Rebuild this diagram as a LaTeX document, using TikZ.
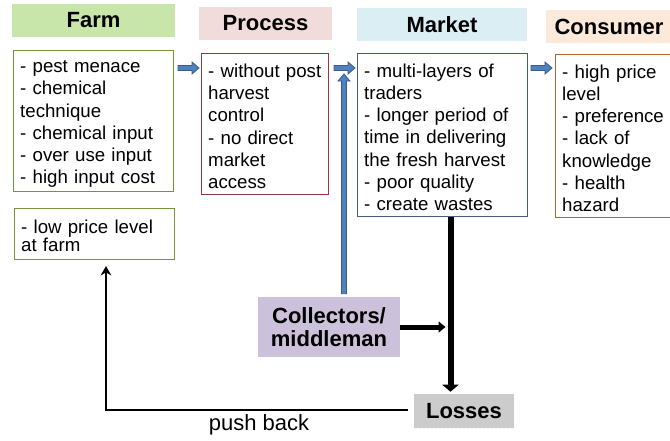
\documentclass[tikz,border=0pt]{standalone}
\usepackage{fontspec}
\setmainfont{Liberation Sans}
\usetikzlibrary{calc,arrows.meta,patterns}

\definecolor{farmfill}{RGB}{200,230,170}
\definecolor{procfill}{RGB}{242,220,219}
\definecolor{mktfill}{RGB}{218,238,243}
\definecolor{consfill}{RGB}{253,233,217}
\definecolor{farmline}{RGB}{119,147,60}
\definecolor{procline}{RGB}{149,55,53}
\definecolor{mktline}{RGB}{70,90,130}
\definecolor{consline}{RGB}{182,100,45}
\definecolor{collfill}{RGB}{204,193,218}
\definecolor{lossfill}{RGB}{205,205,205}
\definecolor{arrowfill}{RGB}{79,129,189}
\definecolor{arrowline}{RGB}{56,93,138}

\tikzset{
  headbox/.style={font=\bfseries\fontsize{16.5}{19}\selectfont, inner sep=0pt, minimum height=24.75pt},
  listbox/.style={draw, line width=0.8pt, anchor=north west, align=left, inner xsep=5pt, inner ysep=0pt, font=\fontsize{14}{16.65}\selectfont, execute at begin node={\rule{0pt}{13.5pt}}},
  actorbox/.style={font=\bfseries\fontsize{16.5}{17.5}\selectfont, align=center, inner sep=0pt},
  heavydrop/.style={line width=4.5pt, -{Triangle[width=12pt,length=5.25pt]}},
  heavyfeed/.style={line width=3.75pt, -{Triangle[width=8.25pt,length=5.25pt]}},
  pushline/.style={line width=1.5pt, -{Stealth[width=8pt,length=7pt]}}
}

\newcommand{\flowarrow}[2]{%
  \path (#1) coordinate (fas) (#2) coordinate (fae);
  \coordinate (fan) at ($(fae)!5.25pt!(fas)$);
  \filldraw[fill=arrowfill, draw=arrowline, line width=0.6pt]
    ($(fas)!1.9pt!90:(fae)$) -- ($(fan)!1.9pt!90:(fae)$) -- ($(fan)!4.5pt!90:(fae)$)
    -- (fae) -- ($(fan)!4.5pt!-90:(fae)$) -- ($(fan)!1.9pt!-90:(fae)$)
    -- ($(fas)!1.9pt!-90:(fae)$) -- cycle;
}

\begin{document}
\begin{tikzpicture}[x=0.75pt,y=0.75pt,yscale=-1,xscale=1]
  \useasboundingbox (0,0) rectangle (670,440);
  \clip (0,0) rectangle (670,440);
  \node (farmhd) [headbox, fill=farmfill, minimum width=122.25pt] at (93.5,20.5) {Farm};
  \node (prochd) [headbox, fill=procfill, minimum width=99.75pt] at (265.5,23.5) {Process};
  \node (mkthd) [headbox, fill=mktfill, minimum width=127.5pt] at (442,24.5) {Market};
  \node (conshd) [headbox, fill=consfill, minimum width=94.5pt] at (609,26.5) {Consumer};
  \node (farmbox) [listbox, draw=farmline, text width=110pt, minimum height=105.75pt] at (13,50) {- pest menace\\- chemical\\technique\\- chemical input\\- over use input\\- high input cost};
  \node (procbox) [listbox, draw=procline, text width=85.25pt, minimum height=105.75pt] at (201,53) {- without post\\harvest\\control\\- no direct\\market\\access};
  \node (mktbox) [listbox, draw=mktline, text width=117.5pt, minimum height=122.25pt] at (357,53) {- multi-layers of\\traders\\- longer period of\\time in delivering\\the fresh harvest\\- poor quality\\- create wastes};
  \node (consbox) [listbox, draw=consline, text width=87.5pt, minimum height=122.25pt] at (555,54) {- high price\\level\\- preference\\- lack of\\knowledge\\- health\\hazard};
  \node (lowbox) [listbox, draw=farmline, text width=110pt, minimum height=38.25pt, font=\fontsize{14}{13.5}\selectfont] at (14,208) {- low price level\\at farm};
  \node (collbox) [actorbox, fill=collfill, minimum width=106.5pt, minimum height=45pt] at (329,327) {Collectors/\\middleman};
  \node (lossbox) [actorbox, fill=lossfill, minimum width=75pt, minimum height=25.5pt, postaction={pattern=crosshatch dots, pattern color=white!55!gray}] at (464,411) {Losses};
  \coordinate (arow) at (0,68);
  \coordinate (uptip) at (344,74);
  \coordinate (drop) at (450.5,0);
  \coordinate (back) at (106,0);
  \flowarrow{$(farmbox.east |- arow)+(4,0)$}{$(procbox.west |- arow)+(-2,0)$}
  \flowarrow{$(procbox.east |- arow)+(5,0)$}{$(mktbox.west |- arow)+(-2,0)$}
  \flowarrow{$(mktbox.east |- arow)+(3,0)$}{$(consbox.west |- arow)+(-3,0)$}
  \flowarrow{$(collbox.north -| uptip)+(0,-3)$}{uptip}
  \draw[heavydrop] (mktbox.south -| drop) -- ($(lossbox.north -| drop)+(0,-2)$);
  \draw[heavyfeed] (collbox.east) -- ($(collbox.east -| drop)+(-5,0)$);
  \draw[pushline] ($(lossbox.west)+(-6,-1)$) -| ($(lowbox.south -| back)+(0,6)$);
  \node (pushlbl) [font=\fontsize{16.5}{19}\selectfont] at (259,425) {push back};
\end{tikzpicture}
\end{document}
